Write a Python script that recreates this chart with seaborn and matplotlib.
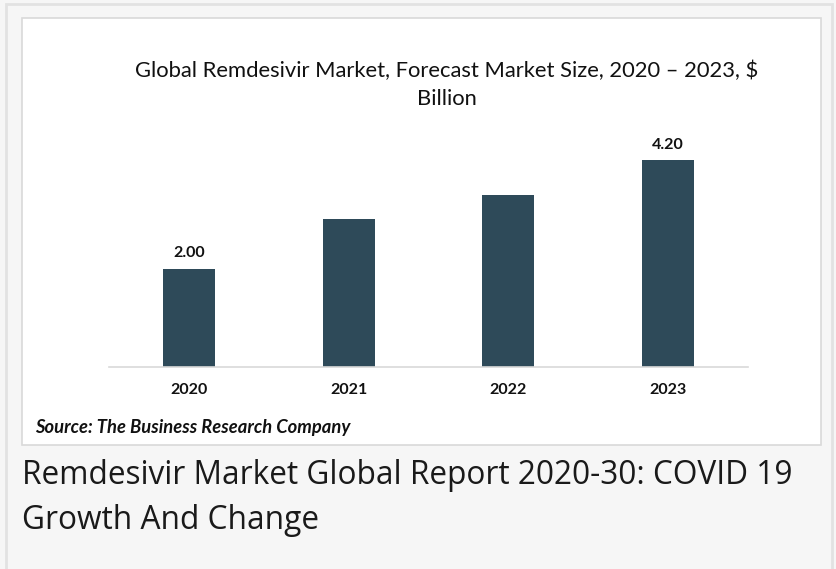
import matplotlib
matplotlib.use("Agg")
import matplotlib.pyplot as plt
import seaborn as sns
import pandas as pd
from matplotlib.patches import Rectangle

years = ["2020", "2021", "2022", "2023"]
values = [2.00, 3.00, 3.50, 4.20]
value_labels = ["2.00", "", "", "4.20"]
title_text = "Global Remdesivir Market, Forecast Market Size, 2020 \u2013 2023, $\nBillion"
source_text = "Source: The Business Research Company"
caption_text = "Remdesivir Market Global Report 2020-30: COVID 19\nGrowth And Change"

sns.set_theme(style="white")
plt.rcParams['font.family'] = ['Lato', 'DejaVu Sans']

W, H = 836, 569
fig = plt.figure(figsize=(W / 100, H / 100), dpi=100)
fig.patch.set_facecolor("#f6f6f6")

def fx(px):
    return px / W

def fy(py):
    return 1 - py / H

# outer frame lines
fig.add_artist(Rectangle((fx(6), fy(H + 5)), fx(826), (H + 5 - 4) / H, transform=fig.transFigure,
                         facecolor="none", edgecolor="#e2e2e2", lw=2, zorder=0))
# inner white chart box
fig.add_artist(Rectangle((fx(22), fy(445)), fx(821 - 22), (445 - 18) / H, transform=fig.transFigure,
                         facecolor="white", edgecolor="#d9d9d9", lw=1.2, zorder=0))

ax_left, ax_right = 109, 748
base = 366.7
ymax = 5.0
ppu = 49.1
ax = fig.add_axes([fx(ax_left), fy(base), fx(ax_right - ax_left), ymax * ppu / H])
ax.set_facecolor("none")

df = pd.DataFrame({"year": years, "value": values})
sns.barplot(data=df, x="year", y="value", color="#2e4a59", width=0.325, ax=ax,
            saturation=1, edgecolor="none")
ax.set_ylim(0, ymax)
ax.set_xlim(-0.5, 3.5)
ax.bar_label(ax.containers[0], labels=value_labels, padding=6, fontsize=11.5,
             fontweight="bold", color="#111111")

for s in ["top", "right", "left"]:
    ax.spines[s].set_visible(False)
ax.spines["bottom"].set_color("#d9d9d9")
ax.spines["bottom"].set_linewidth(1.2)
ax.set_yticks([])
ax.set_xlabel("")
ax.set_ylabel("")
ax.tick_params(axis="x", length=0, pad=12, labelsize=11.5)
for lbl in ax.get_xticklabels():
    lbl.set_fontweight("bold")
    lbl.set_color("#111111")

fig.text(fx(447), fy(84.5), title_text, ha="center", va="center", fontsize=15.8,
         color="#111111", linespacing=1.48)
fig.text(fx(35), fy(427), source_text, ha="left", va="center", fontsize=13.2,
         fontweight="bold", fontstyle="italic", color="#111111")
fig.text(fx(22), fy(498), caption_text, ha="left", va="center", fontsize=22.8,
         family=["Open Sans", "DejaVu Sans"], color="#1a1a1a", linespacing=1.45)

fig.savefig("out.png", dpi=100, facecolor=fig.get_facecolor())
